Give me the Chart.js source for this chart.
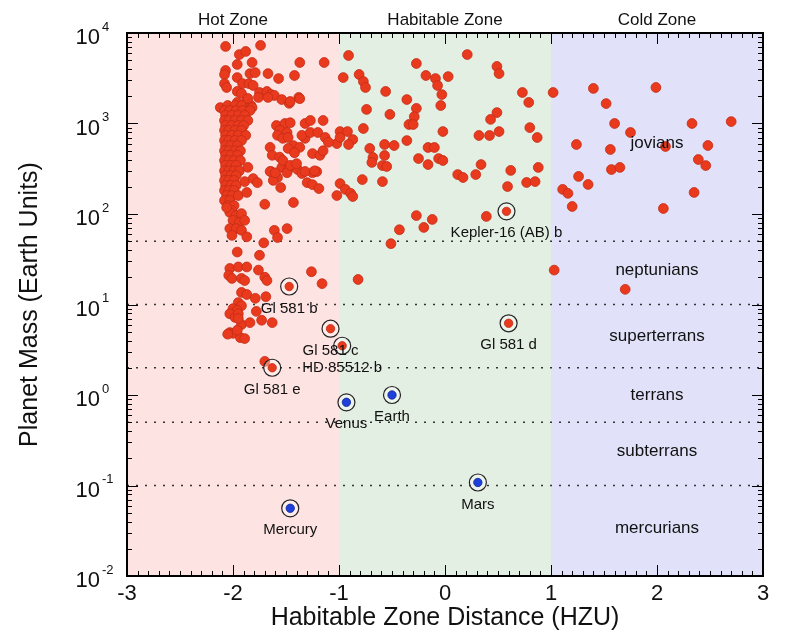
<!DOCTYPE html>
<html>
<head>
<meta charset="utf-8">
<script src="https://cdn.jsdelivr.net/npm/chart.js@4.4.1/dist/chart.umd.min.js"></script>
<style>
  html, body { margin: 0; padding: 0; background: #fff; }
  canvas { display: block; }
</style>
</head>
<body>
<canvas id="hzChart" width="800" height="640"></canvas>
<script>
// --- Data ---
// Hot zone exoplanets (HZU distance, mass in Earth units)
const hotX = [
  -2.07, -1.74, -1.94, -1.88, -1.96, -1.82, -1.37, -1.14, -2.07, -2.08, -1.96, -1.84, -1.79, -1.67, -1.57, -1.42,
  -2.08, -2.06, -1.91, -1.85, -1.81, -1.96, -1.92, -1.75, -1.68, -1.64, -1.61, -1.54, -1.47, -1.38, -1.96, -1.87,
  -1.83, -2.12, -1.86, -1.82, -1.76, -1.67, -1.46, -1.37,
  -2.05, -1.98, -1.92, -2.08, -2.03, -1.97, -1.91, -1.84, -2.07, -2.01, -1.95, -1.89, -2.08, -2.04, -1.98, -1.92,
  -1.86, -2.07, -2.01, -1.95, -1.90, -2.08, -2.04, -1.98, -1.92, -2.07, -2.01, -1.95, -1.88, -2.08, -2.04, -1.98,
  -1.92, -2.07, -2.02, -1.96, -2.08, -2.04, -1.98, -1.93, -2.07, -2.02, -1.96, -2.08, -2.04, -1.99, -1.93, -2.07,
  -2.02, -1.97, -2.08, -2.04, -1.99, -1.94, -2.07, -2.02, -1.97, -2.08, -2.04, -1.99, -2.07, -2.02, -1.97, -2.08,
  -2.04, -1.99, -2.06, -2.01, -1.95, -2.08, -2.03, -2.05, -1.99, -2.01,
  -2.03, -1.97, -1.92, -2.00, -1.94, -1.89, -2.03, -1.97, -1.92, -1.87, -2.01,
  -1.86, -1.89, -1.81, -1.77, -1.87, -1.70, -1.64, -1.54, -1.48, -1.49, -1.58, -1.62, -1.55, -1.39, -1.35, -1.25,
  -1.21, -1.30, -1.25, -1.19, -1.43, -1.49, -1.61, -1.58, -1.71, -2.06, -1.02, -1.02,
  -1.96, -1.75, -2.03, -1.95, -1.87, -1.76, -2.04, -2.01, -1.92, -1.89, -1.70, -1.68, -1.26, -1.16, -1.92, -1.87,
  -1.79, -1.69, -1.95, -1.92, -2.00, -1.96, -1.78, -2.03, -1.98, -1.95, -1.73, -1.63, -1.92, -1.84, -1.95, -2.03,
  -2.00, -2.05, -1.93, -1.89, -1.96, -1.70,
  -1.59, -1.51, -1.46, -1.56, -1.49, -1.58, -1.53, -1.48, -1.65, -1.63, -1.56, -1.53, -1.43, -1.37, -1.32, -1.35,
  -1.27, -1.32, -1.27, -1.15, -1.20, -1.13, -1.10, -1.48, -1.42, -1.25, -1.18, -1.15, -1.46, -1.40, -1.65, -1.60,
  -1.32, -1.23
];
const hotMass = [
  7100, 7300, 5780, 6250, 4490, 4720, 4720, 4720, 3850, 3480, 3220, 3560, 3650, 3560, 3140, 3390,
  2760, 2500, 2760, 2760, 2630, 2260, 2150, 2200, 2260, 2090, 2040, 1840, 1670, 1940, 1710, 1790,
  1580, 1500, 1890, 1500, 1940, 1940, 1750, 1880,
  1580, 1580, 1580, 1390, 1390, 1390, 1390, 1390, 1230, 1230, 1230, 1230, 1080, 1080, 1080, 1080,
  1080, 950, 950, 950, 950, 840, 840, 840, 840, 740, 740, 740, 740, 650, 650, 650,
  650, 570, 570, 570, 500, 500, 500, 500, 445, 445, 445, 390, 390, 390, 390, 345,
  345, 345, 300, 300, 300, 300, 266, 266, 266, 235, 235, 235, 207, 207, 207, 182,
  182, 182, 160, 160, 160, 141, 141, 124, 124, 109,
  104, 96, 101, 85, 81, 85, 69, 69, 66, 56, 58,
  328, 228, 246, 222, 173, 128, 294, 327, 310, 286, 253, 235, 196, 310, 280, 286,
  294, 222, 211, 191, 134, 69, 66, 55, 48, 118, 600, 160,
  38, 35, 25, 26, 26, 24, 21, 19.4, 19.4, 18.4, 20, 18.4, 23, 17, 13.6, 12.9,
  11.7, 12.2, 10.5, 9.7, 9.0, 8.6, 8.4, 7.9, 7.2, 7.9, 6.7, 6.3, 6.0, 6.3, 7.0, 4.9,
  4.8, 4.7, 4.3, 4.2, 5.2, 2.35,
  950, 1000, 1020, 840, 795, 740, 685, 700, 545, 445, 425, 390, 570, 545, 685, 740,
  795, 1000, 1080, 1080, 795, 700, 620, 530, 475, 465, 445, 500, 345, 360, 295, 285,
  295, 300
];

// Habitable zone exoplanets
const habX = [
  -0.91, 0.21, -0.27, -0.96, -0.81, -0.77, -0.75, -0.18, -0.09, 0.03, -0.07, 0.49, 0.51, 0.73, -0.56, -0.03,
  -0.36, 0.79, -0.04, -0.74, -0.27, -0.52, -0.29, 0.49, 0.43, -0.34, -0.30, -0.77, 0.80, -0.99, -0.92, -0.02,
  0.51, 0.32, 0.42, 0.87, -0.87, -0.36, -0.91, -0.57, -0.48, -0.16, -0.10, -0.71, -0.68, -0.69, -0.57, -0.59,
  -0.55, -0.25, -0.06, -0.02, -0.16, 0.34, 0.88, 0.62, 0.12, 0.17, 0.29, -0.78, -0.59, -0.99, -0.94, -0.89,
  -0.87, 0.59, 0.77, 0.85, -0.27, -0.12, -0.20, -0.43, 0.39, -0.51, -0.82, -0.99
];
const habMass = [
  5640, 5780, 4600, 3220, 3480, 2910, 2500, 3390, 3140, 3300, 2630, 4270, 3560, 2200, 2260, 2090,
  1840, 1710, 1580, 1430, 1470, 1260, 1190, 1320, 1110, 975, 975, 880, 900, 815, 815, 815,
  815, 737, 737, 700, 665, 648, 586, 586, 571, 543, 543, 530, 421, 371, 443, 343,
  335, 410, 410, 390, 352, 352, 327, 303, 273, 253, 273, 240, 228, 217, 187, 169,
  156, 201, 223, 228, 96, 87, 71, 67, 94, 47, 18.9, 700
];

// Cold zone exoplanets
const coldX = [
  1.02, 1.40, 1.99, 1.52, 1.60, 2.33, 2.70, 1.75, 1.24, 1.56, 2.08, 2.48, 2.39, 2.46, 1.57, 1.65,
  1.26, 1.35, 1.11, 1.16, 2.35, 1.20, 2.06, 1.03, 1.70
];
const coldMass = [
  2200, 2440, 2500, 1660, 1000, 1000, 1050, 795, 586, 516, 557, 571, 400, 343, 310, 327,
  260, 212, 187, 169, 173, 121, 115, 24, 14.7
];

// Labelled planets
const namedLabels = ["Kepler-16 (AB) b", "Gl 581 b", "Gl 581 c", "HD 85512 b", "Gl 581 e", "Gl 581 d",
                     "Earth", "Venus", "Mars", "Mercury"];
const namedX = [0.58, -1.47, -1.08, -0.97, -1.63, 0.60, -0.50, -0.93, 0.31, -1.46];
const namedMass = [107, 15.8, 5.4, 3.5, 2.0, 6.2, 1.0, 0.83, 0.108, 0.056];
const namedSolar = [false, false, false, false, false, false, true, true, true, true];

// Mass class boundaries and class names
const classBounds = [50, 10, 2, 0.5, 0.1];
const classNames = ["jovians", "neptunians", "superterrans", "terrans", "subterrans", "mercurians"];
const classMass = [600, 24, 4.5, 1.0, 0.24, 0.034];
const classX = 2.0;

// Zones
const zoneNames = ["Hot Zone", "Habitable Zone", "Cold Zone"];
const zoneEdges = [-3, -1, 1, 3];
const zoneColors = ["#fde3e1", "#e4efe3", "#e1e2f9"];

// Ticks
const xTicks = [-3, -2, -1, 0, 1, 2, 3];
const yTickExps = [-2, -1, 0, 1, 2, 3, 4];

const RED = "#ea3a1e";
const RED_EDGE = "#c22c15";
const BLUE = "#1e3fd8";
const FONT = '"Liberation Sans", Arial, Helvetica, sans-serif';

const toPoints = (xs, ys) => xs.map((v, i) => ({ x: v, y: ys[i] }));

function drawText(ctx, s, x, y, size, align, rot) {
    ctx.save();
    ctx.translate(x, y);
    if (rot) ctx.rotate(rot);
    ctx.font = `${size}px ${FONT}`;
    ctx.textAlign = align || "center";
    ctx.textBaseline = "middle";
    ctx.fillStyle = "#111";
    ctx.fillText(s, 0, 0);
    ctx.restore();
}

// Coloured zone backgrounds
const zonePlugin = {
    id: "zones",
    beforeDatasetsDraw(chart) {
        const { ctx, chartArea: a, scales: { x } } = chart;
        ctx.save();
        for (let i = 0; i < zoneColors.length; i++) {
            const x0 = x.getPixelForValue(zoneEdges[i]);
            const x1 = x.getPixelForValue(zoneEdges[i + 1]);
            ctx.fillStyle = zoneColors[i];
            ctx.fillRect(x0, a.top, x1 - x0, a.bottom - a.top);
        }
        ctx.restore();
    }
};

// Frame, inward ticks, tick labels, titles and annotations
const framePlugin = {
    id: "frame",
    afterDatasetsDraw(chart) {
        const { ctx, chartArea: a, scales: { x, y } } = chart;
        ctx.save();
        ctx.strokeStyle = "#000";
        ctx.lineWidth = 1;
        ctx.beginPath();
        // x ticks every 0.1, top and bottom
        for (let i = -30; i <= 30; i++) {
            const px = Math.round(x.getPixelForValue(i / 10)) + 0.5;
            const len = i % 10 === 0 ? 11 : 5;
            ctx.moveTo(px, a.bottom); ctx.lineTo(px, a.bottom - len);
            ctx.moveTo(px, a.top); ctx.lineTo(px, a.top + len);
        }
        // y ticks: decades and 2..9 minors, left and right
        for (let e = -2; e <= 4; e++) {
            for (let k = 1; k <= 9; k++) {
                if (e === 4 && k > 1) break;
                const py = Math.round(y.getPixelForValue(k * Math.pow(10, e))) + 0.5;
                const len = k === 1 ? 11 : 5;
                ctx.moveTo(a.left, py); ctx.lineTo(a.left + len, py);
                ctx.moveTo(a.right, py); ctx.lineTo(a.right - len, py);
            }
        }
        ctx.stroke();
        ctx.lineWidth = 2;
        ctx.strokeRect(a.left, a.top, a.right - a.left, a.bottom - a.top);

        // tick labels
        xTicks.forEach(v => drawText(ctx, String(v), x.getPixelForValue(v), a.bottom + 18, 22));
        yTickExps.forEach(e => {
            const py = y.getPixelForValue(Math.pow(10, e));
            drawText(ctx, "10", a.left - 27, py + 5, 22, "right");
            drawText(ctx, String(e), a.left - 25, py - 6, 13, "left");
        });

        // axis titles
        drawText(ctx, "Habitable Zone Distance (HZU)", (a.left + a.right) / 2, a.bottom + 42, 25);
        drawText(ctx, "Planet Mass (Earth Units)", 30, (a.top + a.bottom) / 2, 25, "center", -Math.PI / 2);

        // zone names above the plot
        zoneNames.forEach((n, i) => {
            const cx = x.getPixelForValue((zoneEdges[i] + zoneEdges[i + 1]) / 2);
            drawText(ctx, n, cx, a.top - 13, 17);
        });

        // mass class names
        classNames.forEach((n, i) => {
            drawText(ctx, n, x.getPixelForValue(classX), y.getPixelForValue(classMass[i]), 17);
        });

        // planet labels under their markers
        namedLabels.forEach((n, i) => {
            drawText(ctx, n, x.getPixelForValue(namedX[i]), y.getPixelForValue(namedMass[i]) + 22, 15);
        });
        ctx.restore();
    }
};

const boundLines = classBounds.map(v => ({
    data: [{ x: -3, y: v }, { x: 3, y: v }],
    showLine: true,
    borderColor: "#333",
    borderWidth: 1.6,
    borderDash: [2, 7],
    pointRadius: 0,
    order: 3
}));

const ctx = document.getElementById("hzChart").getContext("2d");
new Chart(ctx, {
    type: "scatter",
    data: {
        datasets: [
            {
                label: "named",
                data: toPoints(namedX, namedMass),
                pointRadius: 4.2,
                backgroundColor: c => namedSolar[c.dataIndex] ? BLUE : RED,
                borderColor: c => namedSolar[c.dataIndex] ? "#12289a" : RED_EDGE,
                borderWidth: 0.8,
                order: 0
            },
            {
                label: "rings",
                data: toPoints(namedX, namedMass),
                pointRadius: 8.5,
                backgroundColor: "rgba(255,255,255,0.35)",
                borderColor: "#222",
                borderWidth: 1.2,
                order: 1
            },
            {
                label: "exoplanets",
                data: toPoints(hotX, hotMass)
                    .concat(toPoints(habX, habMass))
                    .concat(toPoints(coldX, coldMass)),
                pointRadius: 4.9,
                backgroundColor: RED,
                borderColor: RED_EDGE,
                borderWidth: 0.8,
                order: 2
            },
            ...boundLines
        ]
    },
    options: {
        responsive: false,
        animation: false,
        devicePixelRatio: 1,
        layout: { padding: { left: 127, right: 37, top: 33, bottom: 64 } },
        scales: {
            x: { type: "linear", min: -3, max: 3, display: false },
            y: { type: "logarithmic", min: 0.01, max: 10000, display: false }
        },
        plugins: {
            legend: { display: false },
            tooltip: { enabled: false }
        }
    },
    plugins: [zonePlugin, framePlugin]
});
</script>
</body>
</html>
